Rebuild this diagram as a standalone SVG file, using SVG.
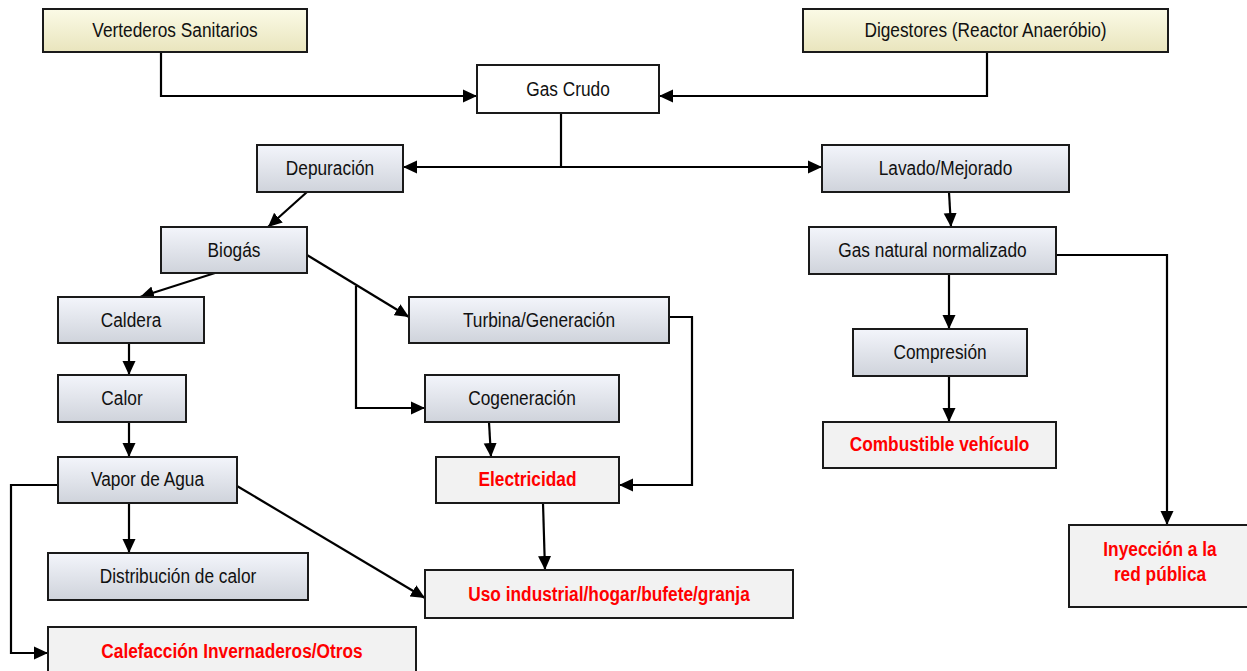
<svg xmlns="http://www.w3.org/2000/svg" width="1247" height="671" viewBox="0 0 1247 671">
  <style>
    .box { stroke: #1a1a1a; stroke-width: 2; }
    .src { fill: url(#gSrc); }
    .proc { fill: url(#gProc); }
    .plain { fill: #ffffff; }
    .out { fill: #f2f2f2; }
    .lbl { font-family: "Liberation Sans", Arial, sans-serif; font-size: 17.3px; fill: #111; text-anchor: middle; }
    .red { font-family: "Liberation Sans", Arial, sans-serif; font-size: 17.3px; font-weight: bold; fill: #ff0000; text-anchor: middle; }
    .wire { fill: none; stroke: #000; stroke-width: 2.2; }
    .arr { marker-end: url(#head); }
  </style>
  <defs>
    <linearGradient id="gSrc" x1="0" y1="0" x2="0" y2="1">
      <stop offset="0" stop-color="#fbfae6"/>
      <stop offset="1" stop-color="#e9e5bd"/>
    </linearGradient>
    <linearGradient id="gProc" x1="0" y1="0" x2="0" y2="1">
      <stop offset="0" stop-color="#f3f5fb"/>
      <stop offset="1" stop-color="#cfd3db"/>
    </linearGradient>
    <marker id="head" viewBox="0 0 14 14" refX="14" refY="7" markerWidth="14" markerHeight="14" markerUnits="userSpaceOnUse" orient="auto">
      <path d="M0,0.5 L14,7 L0,13.5 z" fill="#000"/>
    </marker>
  </defs>

  <rect width="1247" height="671" fill="#ffffff"/>

  <!-- connectors -->
  <g id="connectors">
    <path class="wire arr" d="M161,52 V96 H477"/>
    <path class="wire arr" d="M987,52 V96 H659"/>
    <path class="wire" d="M561,113 V167"/>
    <path class="wire arr" d="M561,167 H403"/>
    <path class="wire arr" d="M561,167 H822"/>
    <path class="wire arr" d="M307,192 L268,227"/>
    <path class="wire arr" d="M215,273 L140,297"/>
    <path class="wire arr" d="M307,255 L409,317"/>
    <path class="wire arr" d="M356,286 V408 H425"/>
    <path class="wire arr" d="M129,343 V375"/>
    <path class="wire arr" d="M129,422 V457"/>
    <path class="wire arr" d="M129,503 V553"/>
    <path class="wire arr" d="M58,485 H11 V653 H48"/>
    <path class="wire arr" d="M237,486 L425,598"/>
    <path class="wire arr" d="M489,422 L491,457"/>
    <path class="wire arr" d="M669,317 H692 V485 H619"/>
    <path class="wire arr" d="M543,503 L545,570"/>
    <path class="wire arr" d="M949,192 L951,227"/>
    <path class="wire arr" d="M1056,255 H1167 V525"/>
    <path class="wire arr" d="M949,274 V329"/>
    <path class="wire arr" d="M949,376 V422"/>
  </g>

  <!-- nodes (labels are stretched slightly in height) -->
  <g id="vertederos">
    <rect class="box src" x="43" y="9" width="264" height="43"/>
    <text class="lbl" transform="translate(175,37) scale(1,1.12)">Vertederos Sanitarios</text>
  </g>
  <g id="digestores">
    <rect class="box src" x="803" y="9" width="365" height="43"/>
    <text class="lbl" transform="translate(985.5,37) scale(1,1.12)">Digestores (Reactor Anaeróbio)</text>
  </g>
  <g id="gas-crudo">
    <rect class="box plain" x="477" y="65" width="182" height="48"/>
    <text class="lbl" transform="translate(568,96) scale(1,1.12)">Gas Crudo</text>
  </g>
  <g id="depuracion">
    <rect class="box proc" x="257" y="145" width="146" height="47"/>
    <text class="lbl" transform="translate(330,175) scale(1,1.12)">Depuración</text>
  </g>
  <g id="lavado">
    <rect class="box proc" x="822" y="145" width="247" height="47"/>
    <text class="lbl" transform="translate(945.5,175) scale(1,1.12)">Lavado/Mejorado</text>
  </g>
  <g id="biogas">
    <rect class="box proc" x="161" y="227" width="146" height="46"/>
    <text class="lbl" transform="translate(234,257) scale(1,1.12)">Biogás</text>
  </g>
  <g id="gas-natural">
    <rect class="box proc" x="809" y="227" width="247" height="47"/>
    <text class="lbl" transform="translate(932.5,257) scale(1,1.12)">Gas natural normalizado</text>
  </g>
  <g id="caldera">
    <rect class="box proc" x="58" y="297" width="146" height="46"/>
    <text class="lbl" transform="translate(131,327) scale(1,1.12)">Caldera</text>
  </g>
  <g id="turbina">
    <rect class="box proc" x="409" y="297" width="260" height="46"/>
    <text class="lbl" transform="translate(539,327) scale(1,1.12)">Turbina/Generación</text>
  </g>
  <g id="compresion">
    <rect class="box proc" x="853" y="329" width="174" height="47"/>
    <text class="lbl" transform="translate(940,359) scale(1,1.12)">Compresión</text>
  </g>
  <g id="calor">
    <rect class="box proc" x="58" y="375" width="128" height="47"/>
    <text class="lbl" transform="translate(122,405) scale(1,1.12)">Calor</text>
  </g>
  <g id="cogeneracion">
    <rect class="box proc" x="425" y="375" width="194" height="47"/>
    <text class="lbl" transform="translate(522,405) scale(1,1.12)">Cogeneración</text>
  </g>
  <g id="combustible">
    <rect class="box out" x="823" y="422" width="233" height="46"/>
    <text class="red" transform="translate(939.5,451) scale(1,1.12)">Combustible vehículo</text>
  </g>
  <g id="vapor">
    <rect class="box proc" x="58" y="457" width="179" height="46"/>
    <text class="lbl" transform="translate(147.5,486) scale(1,1.12)">Vapor de Agua</text>
  </g>
  <g id="electricidad">
    <rect class="box out" x="436" y="457" width="183" height="46"/>
    <text class="red" transform="translate(527.5,486) scale(1,1.12)">Electricidad</text>
  </g>
  <g id="distribucion">
    <rect class="box proc" x="48" y="553" width="260" height="47"/>
    <text class="lbl" transform="translate(178,583) scale(1,1.12)">Distribución de calor</text>
  </g>
  <g id="uso">
    <rect class="box out" x="425" y="570" width="368" height="48"/>
    <text class="red" transform="translate(609,601) scale(1,1.12)">Uso industrial/hogar/bufete/granja</text>
  </g>
  <g id="inyeccion">
    <rect class="box out" x="1069" y="525" width="184" height="82"/>
    <text class="red" transform="translate(1160,556) scale(1,1.12)">Inyección a la</text>
    <text class="red" transform="translate(1160,581) scale(1,1.12)">red pública</text>
  </g>
  <g id="calefaccion">
    <rect class="box out" x="48" y="627" width="368" height="50"/>
    <text class="red" transform="translate(232,658) scale(1,1.12)">Calefacción Invernaderos/Otros</text>
  </g>
</svg>
